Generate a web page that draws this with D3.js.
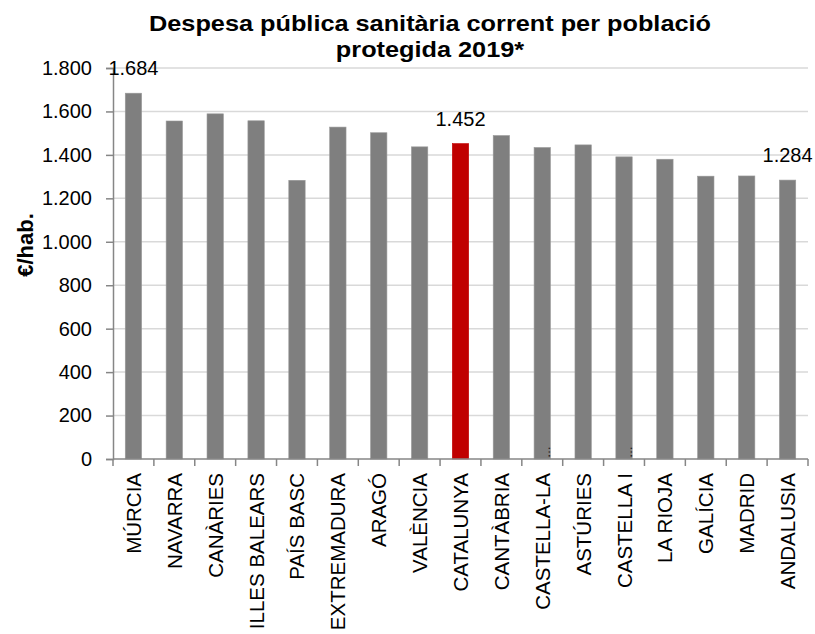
<!DOCTYPE html>
<html>
<head>
<meta charset="utf-8">
<script src="https://cdn.jsdelivr.net/npm/d3@7"></script>
<style>
  body { margin: 0; background: #fff; }
  text { font-family: "Liberation Sans", Arial, sans-serif; }
</style>
</head>
<body>
<div id="vis"></div>
<script>
// data
let regions = ["MÚRCIA", "NAVARRA", "CANÀRIES", "ILLES BALEARS", "PAÍS BASC", "EXTREMADURA", "ARAGÓ",
  "VALÈNCIA", "CATALUNYA", "CANTÀBRIA", "CASTELLA-LA MANXA", "ASTÚRIES", "CASTELLA I LLEÓ",
  "LA RIOJA", "GALÍCIA", "MADRID", "ANDALUSIA"];
let spending = [1684, 1556, 1589, 1557, 1283, 1528, 1502, 1437, 1452, 1489, 1434, 1446, 1391, 1380, 1302, 1303, 1284];
let labelled = ["MÚRCIA", "CATALUNYA", "ANDALUSIA"];
let yTicks = [0, 200, 400, 600, 800, 1000, 1200, 1400, 1600, 1800];
let titleLines = ["Despesa pública sanitària corrent per població", "protegida 2019*"];

let W = 815, H = 634;
let plot = {left: 113, right: 808, top: 68, bottom: 459};
let maxChars = 13;

let svg = d3.select('#vis')
  .append('svg')
  .attr('width', W)
  .attr('height', H);

let data = regions.map(function(r, i) { return {name: r, value: spending[i]}; });

// catalan number format: dot as thousands separator
let fmt = d3.formatLocale({decimal: ",", thousands: ".", grouping: [3], currency: ["", "€"]}).format(",d");

let xScale = d3.scaleBand()
  .domain(regions)
  .range([plot.left, plot.right])
  .paddingInner(0.6)
  .paddingOuter(0.3);

let yScale = d3.scaleLinear()
  .domain([0, 1800])
  .range([plot.bottom, plot.top]);

// gridlines
svg.append("g")
  .selectAll("line")
  .data(yTicks.slice(1))
  .enter()
  .append("line")
    .attr("x1", plot.left)
    .attr("x2", plot.right)
    .attr("y1", function(d) { return yScale(d); })
    .attr("y2", function(d) { return yScale(d); })
    .attr("stroke", "#d9d9d9")
    .attr("stroke-width", 1.5);

// bars
svg.append("g")
  .selectAll("rect")
  .data(data)
  .enter()
  .append("rect")
    .attr("x", function(d) { return xScale(d.name); })
    .attr("y", function(d) { return yScale(d.value); })
    .attr("width", xScale.bandwidth())
    .attr("height", function(d) { return plot.bottom - yScale(d.value); })
    .attr("fill", function(d) { return d.name === "CATALUNYA" ? "#c00000" : "#7f7f7f"; })
    .attr("stroke", function(d) { return d.name === "CATALUNYA" ? "#c00000" : "#999"; })
    .attr("stroke-width", 0.6);

// y axis
let yAxis = svg.append("g")
  .attr("transform", "translate(" + plot.left + ",0)")
  .call(d3.axisLeft(yScale).tickValues(yTicks).tickFormat(fmt).tickSize(7).tickPadding(14));
yAxis.select(".domain").attr("stroke", "#868686").attr("stroke-width", 1.5);
yAxis.selectAll(".tick line").attr("stroke", "#868686").attr("stroke-width", 1.5);
yAxis.selectAll(".tick text")
  .attr("fill", "#000")
  .style("font-size", "20px")
  .style("font-family", "Liberation Sans, Arial, sans-serif");

// x axis: ticks on band edges
let xAxis = svg.append("g")
  .attr("transform", "translate(0," + plot.bottom + ")");
xAxis.append("line")
  .attr("x1", plot.left).attr("x2", plot.right)
  .attr("stroke", "#868686").attr("stroke-width", 1.5);
let step = xScale.step();
xAxis.selectAll(".edge")
  .data(d3.range(regions.length + 1))
  .enter()
  .append("line")
    .attr("x1", function(i) { return plot.left + i * step; })
    .attr("x2", function(i) { return plot.left + i * step; })
    .attr("y1", 0).attr("y2", 7)
    .attr("stroke", "#868686").attr("stroke-width", 1.5);

// long names get cut like excel does
function shortName(n) {
  return n.length > maxChars ? n.slice(0, 11).trim() : n;
}
xAxis.selectAll(".lbl")
  .data(regions)
  .enter()
  .append("text")
    .attr("transform", function(d) {
      return "translate(" + (xScale(d) + xScale.bandwidth() / 2 + 7.5) + ",14) rotate(-90)";
    })
    .attr("text-anchor", "end")
    .style("font-size", "20.5px")
    .text(shortName);

// the ellipsis of cut names ends up just above the axis
xAxis.selectAll(".dots")
  .data(regions.filter(function(n) { return n.length > maxChars; }))
  .enter()
  .append("text")
    .attr("transform", function(d) {
      return "translate(" + (xScale(d) + xScale.bandwidth() / 2 + 7.5) + ",-1) rotate(-90)";
    })
    .attr("text-anchor", "start")
    .style("font-size", "12px")
    .text("…");

// value labels
svg.append("g")
  .selectAll("text")
  .data(data.filter(function(d) { return labelled.indexOf(d.name) >= 0; }))
  .enter()
  .append("text")
    .attr("x", function(d) { return xScale(d.name) + xScale.bandwidth() / 2; })
    .attr("y", function(d) { return yScale(d.value) - 18; })
    .attr("text-anchor", "middle")
    .style("font-size", "20px")
    .text(function(d) { return fmt(d.value); });

// title (the original font runs a bit wider than Liberation Sans)
svg.append("text")
  .attr("transform", "translate(430,31) scale(1.15,1)")
  .attr("text-anchor", "middle")
  .style("font-size", "22px")
  .style("font-weight", "bold")
  .selectAll("tspan")
  .data(titleLines)
  .enter()
  .append("tspan")
    .attr("x", 0)
    .attr("dy", function(d, i) { return i === 0 ? 0 : 26; })
    .text(function(d) { return d; });

// y axis title
svg.append("text")
  .attr("transform", "translate(33,245) rotate(-90)")
  .attr("text-anchor", "middle")
  .style("font-size", "22px")
  .style("font-weight", "bold")
  .text("€/hab.");
</script>
</body>
</html>
